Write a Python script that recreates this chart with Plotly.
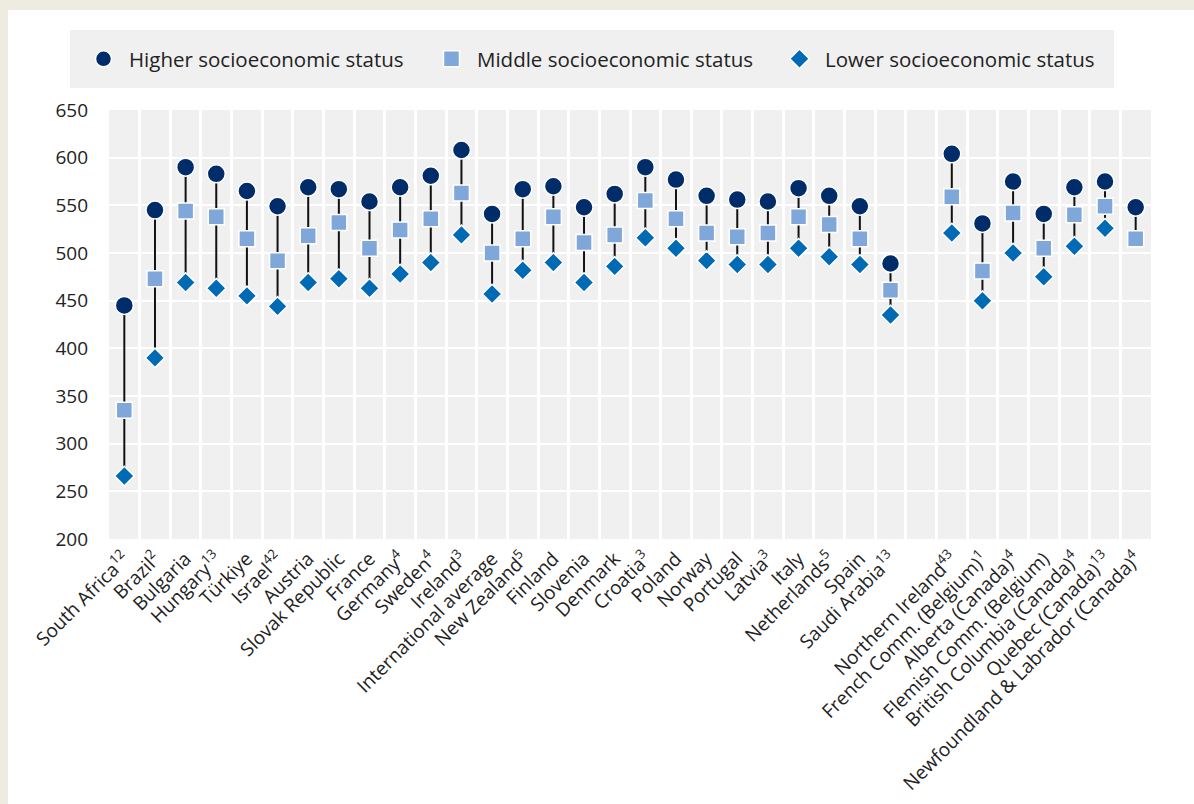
import plotly.graph_objects as go

countries = [
    "South Africa<sup>12</sup>", "Brazil<sup>2</sup>", "Bulgaria", "Hungary<sup>13</sup>",
    "Türkiye", "Israel<sup>42</sup>", "Austria", "Slovak Republic", "France",
    "Germany<sup>4</sup>", "Sweden<sup>4</sup>", "Ireland<sup>3</sup>",
    "International average", "New Zealand<sup>5</sup>", "Finland", "Slovenia",
    "Denmark", "Croatia<sup>3</sup>", "Poland", "Norway", "Portugal",
    "Latvia<sup>3</sup>", "Italy", "Netherlands<sup>5</sup>", "Spain",
    "Saudi Arabia<sup>13</sup>", " ",
    "Northern Ireland<sup>43</sup>", "French Comm. (Belgium)<sup>1</sup>",
    "Alberta (Canada)<sup>4</sup>", "Flemish Comm. (Belgium)",
    "British Columbia (Canada)<sup>4</sup>", "Quebec (Canada)<sup>13</sup>",
    "Newfoundland & Labrador (Canada)<sup>4</sup>",
]

higher = [445, 545, 590, 583, 565, 549, 569, 567, 554, 569, 581, 608,
          541, 567, 570, 548, 562, 590, 577, 560, 556, 554, 568, 560, 549, 489,
          None,
          604, 531, 575, 541, 569, 575, 548]
middle = [335, 473, 544, 538, 515, 492, 518, 532, 505, 524, 536, 563,
          500, 515, 538, 511, 519, 555, 536, 521, 517, 521, 538, 530, 515, 461,
          None,
          559, 481, 542, 505, 540, 549, 515]
lower = [266, 390, 469, 463, 455, 444, 469, 473, 463, 478, 490, 519,
         457, 482, 490, 469, 486, 516, 505, 492, 488, 488, 505, 496, 488, 435,
         None,
         521, 450, 500, 475, 507, 526, None]

# connector lines (top value down to lowest available value)
lx, ly = [], []
for c, h, m, lo in zip(countries, higher, middle, lower):
    if h is None:
        continue
    bottom = lo if lo is not None else m
    lx += [c, c, None]
    ly += [h, bottom, None]

fig = go.Figure()
fig.add_trace(go.Scatter(
    x=lx, y=ly, mode="lines",
    line=dict(color="#111111", width=2),
    showlegend=False, hoverinfo="skip",
))
fig.add_trace(go.Scatter(
    x=countries, y=higher, mode="markers", name="Higher socioeconomic status",
    marker=dict(symbol="circle", size=18, color="#002D6A",
                line=dict(color="white", width=1.5)),
))
fig.add_trace(go.Scatter(
    x=countries, y=middle, mode="markers", name="Middle socioeconomic status",
    marker=dict(symbol="square", size=16, color="#7FA7D9",
                line=dict(color="white", width=1.5)),
))
fig.add_trace(go.Scatter(
    x=countries, y=lower, mode="markers", name="Lower socioeconomic status",
    marker=dict(symbol="diamond", size=15, color="#006AB4",
                line=dict(color="white", width=1.5)),
))

# pixel -> paper helpers for the surrounding decoration
L, R, T, B = 109, 1151, 110, 539
def px(x):
    return (x - L) / (R - L)
def py(y):
    return (B - y) / (B - T)

beige = "#EEEBE0"
fig.update_layout(
    width=1194, height=804,
    margin=dict(l=L, r=1194 - R, t=T, b=804 - B, autoexpand=False),
    paper_bgcolor="white",
    plot_bgcolor="#F0F0F0",
    font=dict(family="Open Sans, sans-serif", size=19, color="#222222"),
    shapes=[
        dict(type="rect", xref="paper", yref="paper", layer="below",
             x0=px(-5), x1=px(1200), y0=py(10), y1=py(-5),
             fillcolor=beige, line=dict(width=0)),
        dict(type="rect", xref="paper", yref="paper", layer="below",
             x0=px(-5), x1=px(8), y0=py(810), y1=py(-5),
             fillcolor=beige, line=dict(width=0)),
        dict(type="rect", xref="paper", yref="paper", layer="below",
             x0=px(70), x1=px(1114), y0=py(88), y1=py(30),
             fillcolor="#F0F0F0", line=dict(width=0)),
    ],
    legend=dict(
        orientation="h", x=px(78), y=py(59), xanchor="left", yanchor="middle",
        bgcolor="rgba(0,0,0,0)", font=dict(size=20.5, color="#222222"),
        entrywidth=292, itemwidth=41, itemsizing="trace",
    ),
    showlegend=True,
)
fig.update_xaxes(
    type="category", categoryorder="array", categoryarray=countries,
    range=[-0.5, len(countries) - 0.5], automargin=False,
    tickson="boundaries", showgrid=True, gridcolor="white",
    gridwidth=2.5, tickangle=-45, ticks="", zeroline=False, showline=False,
    ticklabelstandoff=4, tickfont=dict(size=19),
)
fig.update_yaxes(
    range=[200, 650], dtick=50, showgrid=True, gridcolor="white", gridwidth=2,
    zeroline=False, showline=False, ticks="", ticklabelstandoff=20,
    automargin=False, tickfont=dict(size=19),
)

fig.write_html("out.html", config={"displayModeBar": False},
               post_script="document.body.style.margin='0';")
